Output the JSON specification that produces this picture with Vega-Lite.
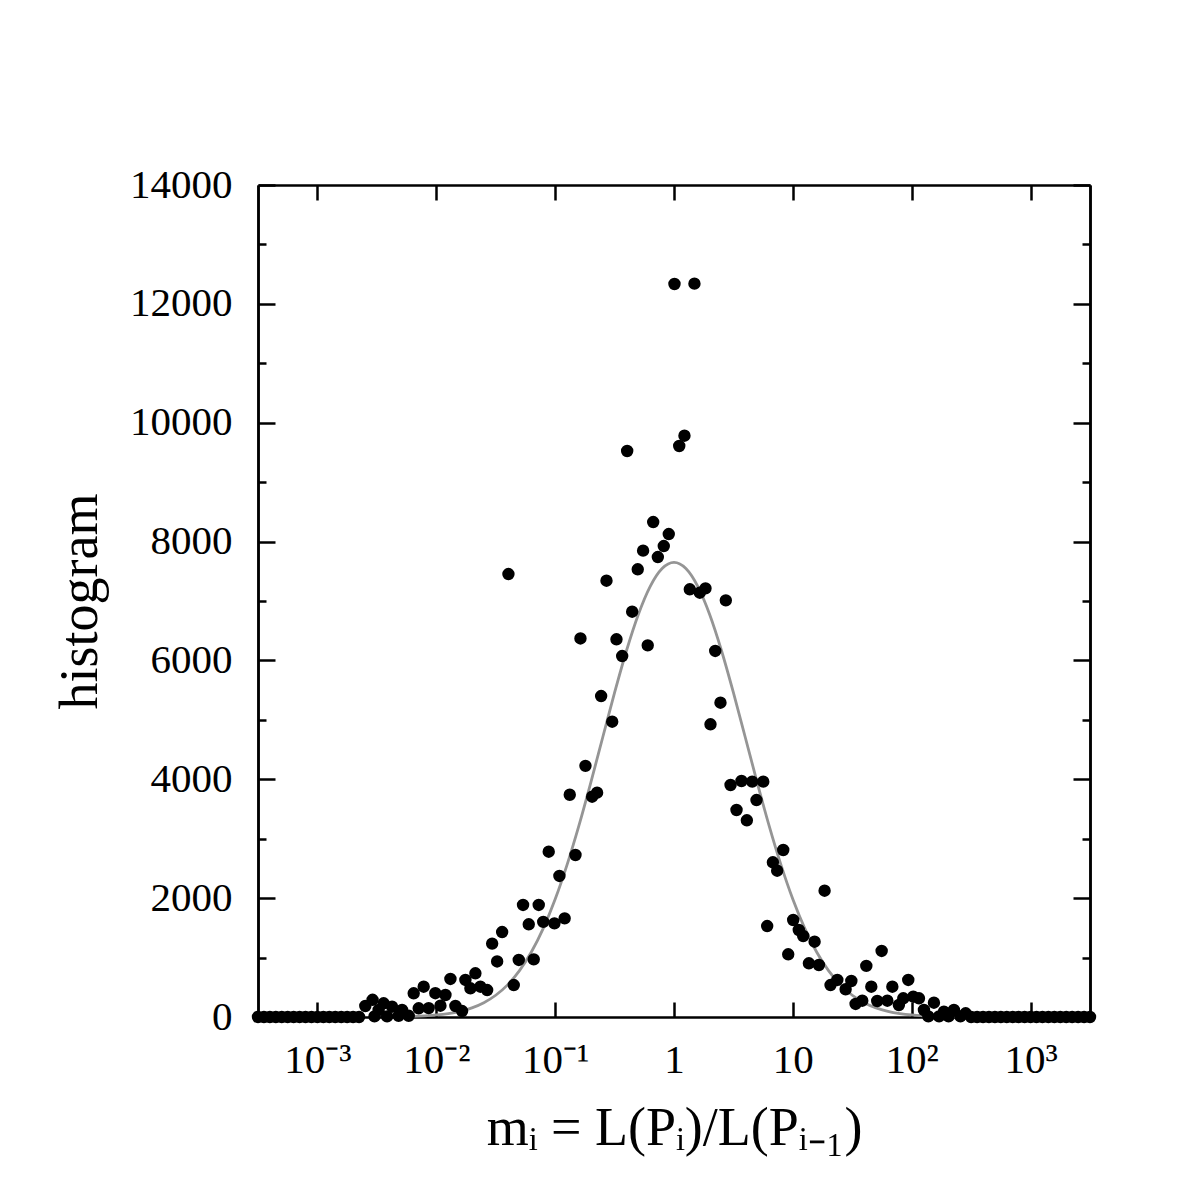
{
  "$schema": "https://vega.github.io/schema/vega-lite/v6.json",
  "width": 832,
  "height": 832,
  "autosize": {"type": "none"},
  "padding": {"left": 258, "top": 185, "right": 110, "bottom": 183},
  "background": "white",
  "config": {
    "view": {"stroke": null},
    "font": "Liberation Serif",
    "axis": {
      "grid": false,
      "domainColor": "black",
      "domainWidth": 2.5,
      "tickColor": "black",
      "tickWidth": 2.5,
      "labelColor": "black",
      "titleColor": "black",
      "labelFont": "Liberation Serif",
      "titleFont": "Liberation Serif",
      "labelFontSize": 41,
      "titleFontSize": 54,
      "titleFontWeight": "normal"
    }
  },
  "datasets": {
    "points": [
      {"log10m": -3.5, "count": 0}, {"log10m": -3.45, "count": 0}, {"log10m": -3.4, "count": 0}, {"log10m": -3.35, "count": 0},
      {"log10m": -3.3, "count": 0}, {"log10m": -3.25, "count": 0}, {"log10m": -3.2, "count": 0}, {"log10m": -3.15, "count": 0},
      {"log10m": -3.1, "count": 0}, {"log10m": -3.05, "count": 0}, {"log10m": -3.0, "count": 0}, {"log10m": -2.95, "count": 0},
      {"log10m": -2.9, "count": 0}, {"log10m": -2.85, "count": 0}, {"log10m": -2.8, "count": 0}, {"log10m": -2.75, "count": 0},
      {"log10m": -2.7, "count": 0}, {"log10m": -2.65, "count": 0},
      {"log10m": -2.597, "count": 185}, {"log10m": -2.536, "count": 290}, {"log10m": -2.52, "count": 10},
      {"log10m": -2.485, "count": 118}, {"log10m": -2.443, "count": 230}, {"log10m": -2.414, "count": 10},
      {"log10m": -2.372, "count": 173}, {"log10m": -2.317, "count": 20}, {"log10m": -2.288, "count": 118},
      {"log10m": -2.232, "count": 20}, {"log10m": -2.19, "count": 399}, {"log10m": -2.148, "count": 146},
      {"log10m": -2.106, "count": 510}, {"log10m": -2.064, "count": 150}, {"log10m": -2.008, "count": 400},
      {"log10m": -1.965, "count": 190}, {"log10m": -1.923, "count": 370}, {"log10m": -1.881, "count": 640},
      {"log10m": -1.839, "count": 185}, {"log10m": -1.783, "count": 100}, {"log10m": -1.755, "count": 623},
      {"log10m": -1.713, "count": 483}, {"log10m": -1.671, "count": 735}, {"log10m": -1.629, "count": 510},
      {"log10m": -1.572, "count": 454}, {"log10m": -1.53, "count": 1235}, {"log10m": -1.488, "count": 935},
      {"log10m": -1.446, "count": 1430}, {"log10m": -1.393, "count": 7454}, {"log10m": -1.348, "count": 538},
      {"log10m": -1.306, "count": 960}, {"log10m": -1.27, "count": 1885}, {"log10m": -1.222, "count": 1560},
      {"log10m": -1.18, "count": 970}, {"log10m": -1.138, "count": 1885}, {"log10m": -1.1, "count": 1600},
      {"log10m": -1.054, "count": 2782}, {"log10m": -1.006, "count": 1576}, {"log10m": -0.964, "count": 2373},
      {"log10m": -0.92, "count": 1660}, {"log10m": -0.877, "count": 3740}, {"log10m": -0.829, "count": 2726},
      {"log10m": -0.787, "count": 6370}, {"log10m": -0.745, "count": 4226}, {"log10m": -0.689, "count": 3707},
      {"log10m": -0.647, "count": 3774}, {"log10m": -0.613, "count": 5401}, {"log10m": -0.568, "count": 7341},
      {"log10m": -0.52, "count": 4969}, {"log10m": -0.484, "count": 6355}, {"log10m": -0.436, "count": 6074},
      {"log10m": -0.394, "count": 9524}, {"log10m": -0.352, "count": 6820}, {"log10m": -0.305, "count": 7533},
      {"log10m": -0.26, "count": 7847}, {"log10m": -0.221, "count": 6254}, {"log10m": -0.175, "count": 8329},
      {"log10m": -0.136, "count": 7740}, {"log10m": -0.086, "count": 7925}, {"log10m": -0.044, "count": 8127},
      {"log10m": 0.004, "count": 12334}, {"log10m": 0.044, "count": 9608}, {"log10m": 0.088, "count": 9781},
      {"log10m": 0.133, "count": 7197}, {"log10m": 0.172, "count": 12340}, {"log10m": 0.217, "count": 7140},
      {"log10m": 0.265, "count": 7213}, {"log10m": 0.307, "count": 4925}, {"log10m": 0.347, "count": 6159},
      {"log10m": 0.391, "count": 5289}, {"log10m": 0.436, "count": 7011}, {"log10m": 0.476, "count": 3904},
      {"log10m": 0.526, "count": 3483}, {"log10m": 0.568, "count": 3971}, {"log10m": 0.613, "count": 3310},
      {"log10m": 0.658, "count": 3960}, {"log10m": 0.694, "count": 3651}, {"log10m": 0.751, "count": 3960},
      {"log10m": 0.784, "count": 1531}, {"log10m": 0.832, "count": 2603}, {"log10m": 0.868, "count": 2462},
      {"log10m": 0.919, "count": 2810}, {"log10m": 0.961, "count": 1055}, {"log10m": 1.003, "count": 1632},
      {"log10m": 1.05, "count": 1464}, {"log10m": 1.087, "count": 1363}, {"log10m": 1.135, "count": 904},
      {"log10m": 1.183, "count": 1267}, {"log10m": 1.219, "count": 875}, {"log10m": 1.267, "count": 2125},
      {"log10m": 1.317, "count": 538}, {"log10m": 1.374, "count": 623}, {"log10m": 1.444, "count": 466},
      {"log10m": 1.492, "count": 606}, {"log10m": 1.528, "count": 219}, {"log10m": 1.584, "count": 274},
      {"log10m": 1.618, "count": 860}, {"log10m": 1.66, "count": 510}, {"log10m": 1.71, "count": 269},
      {"log10m": 1.747, "count": 1111}, {"log10m": 1.795, "count": 274}, {"log10m": 1.837, "count": 510},
      {"log10m": 1.892, "count": 202}, {"log10m": 1.929, "count": 315}, {"log10m": 1.971, "count": 623},
      {"log10m": 2.013, "count": 342}, {"log10m": 2.061, "count": 315}, {"log10m": 2.103, "count": 118},
      {"log10m": 2.14, "count": 10}, {"log10m": 2.187, "count": 241}, {"log10m": 2.23, "count": 10},
      {"log10m": 2.271, "count": 89}, {"log10m": 2.31, "count": 10}, {"log10m": 2.355, "count": 118},
      {"log10m": 2.41, "count": 10}, {"log10m": 2.454, "count": 62},
      {"log10m": 2.5, "count": 0}, {"log10m": 2.55, "count": 0}, {"log10m": 2.6, "count": 0}, {"log10m": 2.65, "count": 0},
      {"log10m": 2.7, "count": 0}, {"log10m": 2.75, "count": 0}, {"log10m": 2.8, "count": 0}, {"log10m": 2.85, "count": 0},
      {"log10m": 2.9, "count": 0}, {"log10m": 2.95, "count": 0}, {"log10m": 3.0, "count": 0}, {"log10m": 3.05, "count": 0},
      {"log10m": 3.1, "count": 0}, {"log10m": 3.15, "count": 0}, {"log10m": 3.2, "count": 0}, {"log10m": 3.25, "count": 0},
      {"log10m": 3.3, "count": 0}, {"log10m": 3.35, "count": 0}, {"log10m": 3.4, "count": 0}, {"log10m": 3.45, "count": 0},
      {"log10m": 3.5, "count": 0}
    ],
    "curve": [
      {"log10m": -2.4, "count": 3}, {"log10m": -2.3, "count": 6}, {"log10m": -2.2, "count": 11}, {"log10m": -2.1, "count": 20},
      {"log10m": -2.0, "count": 34}, {"log10m": -1.9, "count": 58}, {"log10m": -1.8, "count": 96}, {"log10m": -1.7, "count": 154},
      {"log10m": -1.6, "count": 241}, {"log10m": -1.5, "count": 366}, {"log10m": -1.4, "count": 541}, {"log10m": -1.3, "count": 780},
      {"log10m": -1.2, "count": 1093}, {"log10m": -1.1, "count": 1491}, {"log10m": -1.0, "count": 1981}, {"log10m": -0.9, "count": 2560},
      {"log10m": -0.8, "count": 3221}, {"log10m": -0.7, "count": 3945}, {"log10m": -0.6, "count": 4703}, {"log10m": -0.5, "count": 5457},
      {"log10m": -0.4, "count": 6163}, {"log10m": -0.3, "count": 6774}, {"log10m": -0.2, "count": 7247}, {"log10m": -0.1, "count": 7547},
      {"log10m": 0.0, "count": 7650},
      {"log10m": 0.1, "count": 7547}, {"log10m": 0.2, "count": 7247}, {"log10m": 0.3, "count": 6774}, {"log10m": 0.4, "count": 6163},
      {"log10m": 0.5, "count": 5457}, {"log10m": 0.6, "count": 4703}, {"log10m": 0.7, "count": 3945}, {"log10m": 0.8, "count": 3221},
      {"log10m": 0.9, "count": 2560}, {"log10m": 1.0, "count": 1981}, {"log10m": 1.1, "count": 1491}, {"log10m": 1.2, "count": 1093},
      {"log10m": 1.3, "count": 780}, {"log10m": 1.4, "count": 541}, {"log10m": 1.5, "count": 366}, {"log10m": 1.6, "count": 241},
      {"log10m": 1.7, "count": 154}, {"log10m": 1.8, "count": 96}, {"log10m": 1.9, "count": 58}, {"log10m": 2.0, "count": 34},
      {"log10m": 2.1, "count": 20}, {"log10m": 2.2, "count": 11}, {"log10m": 2.3, "count": 6}, {"log10m": 2.4, "count": 3}
    ]
  },
  "layer": [
    {
      "data": {"name": "curve"},
      "mark": {"type": "line", "color": "#959595", "strokeWidth": 2.8, "interpolate": "monotone"},
      "encoding": {
        "x": {
          "field": "log10m", "type": "quantitative",
          "scale": {"domain": [-3.5, 3.5], "nice": false, "zero": false},
          "axis": {
            "orient": "bottom",
            "values": [-3, -2, -1, 0, 1, 2, 3],
            "tickSize": -15,
            "labelPadding": 38,
            "labelFlush": false,
            "labelExpr": "datum.value == -3 ? '10⁻³' : datum.value == -2 ? '10⁻²' : datum.value == -1 ? '10⁻¹' : datum.value == 0 ? '1' : datum.value == 1 ? '10' : datum.value == 2 ? '10²' : '10³'",
            "title": "mᵢ = L(Pᵢ)/L(Pᵢ₋₁)",
            "titlePadding": 21
          }
        },
        "y": {
          "field": "count", "type": "quantitative",
          "scale": {"domain": [0, 14000], "nice": false},
          "axis": {
            "orient": "left",
            "values": [0, 2000, 4000, 6000, 8000, 10000, 12000, 14000],
            "tickSize": -17,
            "labelPadding": 43,
            "labelFlush": false,
            "format": "d",
            "title": "histogram",
            "titlePadding": 22
          }
        }
      }
    },
    {
      "data": {"name": "points"},
      "mark": {"type": "circle", "size": 154, "color": "black", "opacity": 1},
      "encoding": {
        "x": {
          "field": "log10m", "type": "quantitative",
          "axis": {"orient": "top", "values": [-3, -2, -1, 0, 1, 2, 3], "tickSize": -15, "labels": false, "title": null}
        },
        "y": {
          "field": "count", "type": "quantitative",
          "axis": {"orient": "left", "values": [1000, 3000, 5000, 7000, 9000, 11000, 13000], "tickSize": -8, "labels": false, "title": null}
        }
      }
    },
    {
      "data": {"name": "curve"},
      "mark": {"type": "point", "opacity": 0},
      "encoding": {
        "x": {"field": "log10m", "type": "quantitative", "axis": null},
        "y": {
          "field": "count", "type": "quantitative",
          "axis": {"orient": "right", "values": [0, 2000, 4000, 6000, 8000, 10000, 12000, 14000], "tickSize": -17, "labels": false, "title": null}
        }
      }
    },
    {
      "data": {"name": "curve"},
      "mark": {"type": "point", "opacity": 0},
      "encoding": {
        "x": {"field": "log10m", "type": "quantitative", "axis": null},
        "y": {
          "field": "count", "type": "quantitative",
          "axis": {"orient": "right", "values": [1000, 3000, 5000, 7000, 9000, 11000, 13000], "tickSize": -8, "labels": false, "title": null}
        }
      }
    }
  ],
  "resolve": {"axis": {"x": "independent", "y": "independent"}}
}
